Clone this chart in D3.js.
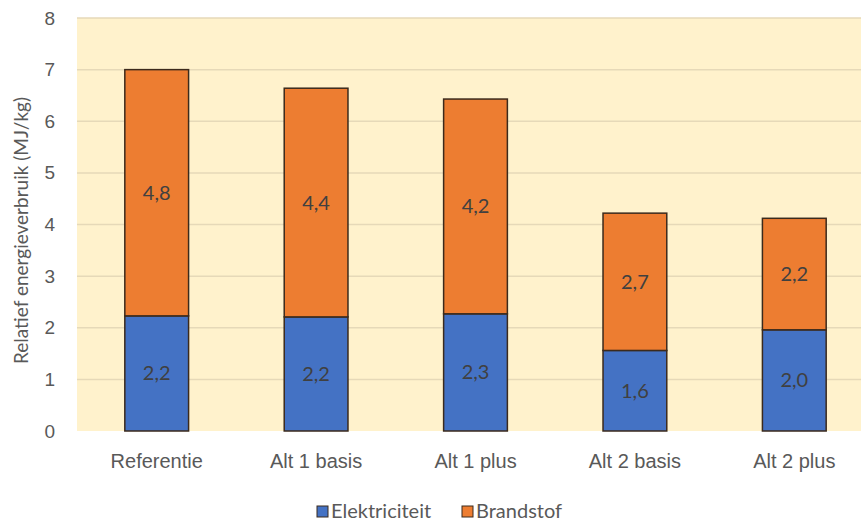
<!DOCTYPE html>
<html><head><meta charset="utf-8">
<script src="https://cdn.jsdelivr.net/npm/d3@7"></script>
<style>html,body{margin:0;padding:0;background:#fff;}svg{display:block;font-family:Lato,"Open Sans",sans-serif;}</style>
</head><body>
<svg id="c" width="861" height="521"></svg>
<script>
const categories = ["Referentie","Alt 1 basis","Alt 1 plus","Alt 2 basis","Alt 2 plus"];
const elektriciteit = [2.23, 2.21, 2.27, 1.56, 1.96];
const brandstof = [4.77, 4.43, 4.16, 2.66, 2.16];
const seriesNames = ["Elektriciteit","Brandstof"];
const yTicks = [0,1,2,3,4,5,6,7,8];
const yTitle = "Relatief energieverbruik (MJ/kg)";

(function(){
const colors = {Elektriciteit:"#4472C4", Brandstof:"#ED7D31"};
const svg = d3.select("#c");
const mLeft = 77, mRight = 874, mTop = 18, mBottom = 431;

const x = d3.scaleBand().domain(categories).range([mLeft, mRight]).paddingInner(0.6).paddingOuter(0.3);
const y = d3.scaleLinear().domain([0,8]).range([mBottom, mTop]);
const loc = d3.formatLocale({decimal:",", thousands:".", grouping:[3], currency:["€",""]});
const fmt = loc.format(".1f");

svg.append("rect").attr("x", mLeft).attr("y", y(8)).attr("width", 861-mLeft).attr("height", mBottom - y(8)).attr("fill", "#FFF2CC");

svg.append("g").selectAll("line").data(yTicks.filter(d=>d>0)).join("line")
  .attr("x1", mLeft).attr("x2", 861).attr("y1", d=>y(d)).attr("y2", d=>y(d))
  .attr("stroke", "#E6D9B8").attr("stroke-width", 1.5);

const yAxis = svg.append("g").attr("transform", `translate(${mLeft},0)`)
  .call(d3.axisLeft(y).tickValues(yTicks).tickSize(0).tickPadding(22));
yAxis.select(".domain").remove();
yAxis.selectAll("text").attr("fill","#595959").attr("font-size",19);

const xAxis = svg.append("g").attr("transform", `translate(0,${mBottom})`)
  .call(d3.axisBottom(x).tickSize(0).tickPadding(23));
xAxis.select(".domain").remove();
xAxis.selectAll("text").attr("fill","#595959").attr("font-size",20);

const rows = categories.map((c,i)=>({cat:c, Elektriciteit:elektriciteit[i], Brandstof:brandstof[i]}));
const stacked = d3.stack().keys(seriesNames)(rows);

const g = svg.append("g");
stacked.forEach(s=>{
  g.append("g").selectAll("rect").data(s).join("rect")
    .attr("x", d=>x(d.data.cat)).attr("width", x.bandwidth())
    .attr("y", d=>y(d[1])).attr("height", d=>y(d[0])-y(d[1]))
    .attr("fill", colors[s.key]).attr("stroke","#3b2a1c").attr("stroke-width",1.5);
  g.append("g").selectAll("text").data(s).join("text")
    .attr("x", d=>x(d.data.cat)+x.bandwidth()/2)
    .attr("y", d=>y((d[0]+d[1])/2))
    .attr("dy","0.35em").attr("text-anchor","middle")
    .attr("fill","#404040").attr("font-size",20)
    .text(d=>fmt(d[1]-d[0]));
});

svg.append("text").attr("transform", `translate(21,${(mTop+mBottom)/2 + 6}) rotate(-90)`)
  .attr("text-anchor","middle").attr("dy","0.35em").attr("fill","#595959").attr("font-size",19)
  .text(yTitle);

const legX = [317, 462];
const leg = svg.append("g");
seriesNames.forEach((n,i)=>{
  leg.append("rect").attr("x", legX[i]).attr("y", 506).attr("width", 11).attr("height", 11)
    .attr("fill", colors[n]).attr("stroke","#3b2a1c").attr("stroke-width",1);
  leg.append("text").attr("x", legX[i]+14).attr("y", 511).attr("dy","0.35em")
    .attr("fill","#595959").attr("font-size",20).text(n);
});
})();
</script>
</body></html>
